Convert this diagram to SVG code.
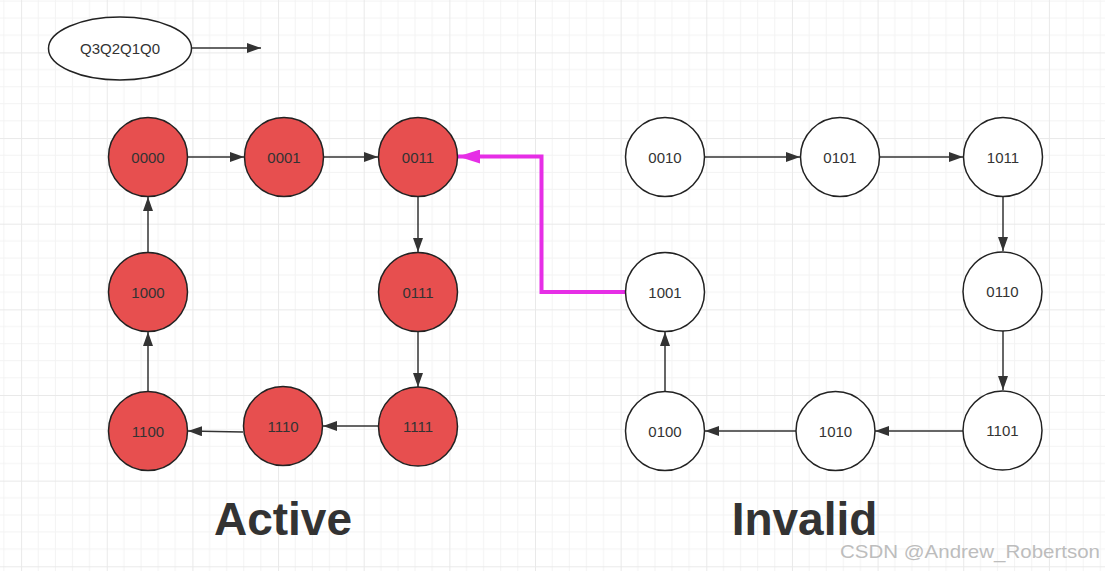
<svg xmlns="http://www.w3.org/2000/svg" width="1105" height="571" viewBox="0 0 1105 571">
<style>
.n circle{stroke:#222;stroke-width:1.5}
.r circle{fill:#e74f4f}
.w circle{fill:#fff}
.n text,.lbl{font-family:"Liberation Sans",Arial,sans-serif;font-size:15px;fill:#333;text-anchor:middle;dominant-baseline:central}
.e line,.e path{stroke:#333;stroke-width:1.5;fill:none}
.big{font-family:"Liberation Sans",Arial,sans-serif;font-weight:bold;font-size:46px;fill:#333;text-anchor:middle}
</style>
<defs>
<pattern id="grid" patternUnits="userSpaceOnUse" x="21.1" y="52.4" width="85.65" height="85.65">
<path d="M17.13 0V85.65M34.26 0V85.65M51.39 0V85.65M68.52 0V85.65M0 17.13H85.65M0 34.26H85.65M0 51.39H85.65M0 68.52H85.65" stroke="#f3f3f3" stroke-width="1"/>
<path d="M0.5 0V85.65M0 0.5H85.65" stroke="#e9e9e9" stroke-width="1"/>
</pattern>
<marker id="a" markerUnits="userSpaceOnUse" markerWidth="14" markerHeight="10" refX="14" refY="5" orient="auto" viewBox="0 0 14 10">
<path d="M0 0L14 5L0 10z" fill="#333"/>
</marker>
<marker id="m" markerUnits="userSpaceOnUse" markerWidth="22" markerHeight="14" refX="22" refY="7" orient="auto" viewBox="0 0 22 14">
<path d="M0 0L22 7L0 14z" fill="#e62ee6"/>
</marker>
</defs>
<rect width="1105" height="571" fill="#fff"/>
<rect width="1105" height="571" fill="url(#grid)"/>

<g id="legend" class="n w">
<ellipse cx="120" cy="48.5" rx="71.5" ry="31.5" fill="#fff" stroke="#222" stroke-width="1.5"/>
<text x="120" y="48.5">Q3Q2Q1Q0</text>
</g>

<g id="edges" class="e">
<line x1="192" y1="48" x2="261" y2="48" marker-end="url(#a)"/>
<line x1="188" y1="157" x2="244" y2="157" marker-end="url(#a)"/>
<line x1="324" y1="157" x2="378" y2="157" marker-end="url(#a)"/>
<line x1="418" y1="197" x2="418" y2="252" marker-end="url(#a)"/>
<line x1="418" y1="332" x2="418" y2="387" marker-end="url(#a)"/>
<line x1="378" y1="426" x2="323" y2="426" marker-end="url(#a)"/>
<line x1="243" y1="432" x2="188" y2="431" marker-end="url(#a)"/>
<line x1="148" y1="391" x2="148" y2="332" marker-end="url(#a)"/>
<line x1="148" y1="252" x2="148" y2="197" marker-end="url(#a)"/>
<line x1="705" y1="157" x2="800" y2="157" marker-end="url(#a)"/>
<line x1="880" y1="157" x2="963" y2="157" marker-end="url(#a)"/>
<line x1="1003" y1="197" x2="1003" y2="251" marker-end="url(#a)"/>
<line x1="1003" y1="331" x2="1003" y2="390" marker-end="url(#a)"/>
<line x1="963" y1="431" x2="875" y2="431" marker-end="url(#a)"/>
<line x1="796" y1="431" x2="705" y2="431" marker-end="url(#a)"/>
<line x1="665" y1="391" x2="665" y2="332" marker-end="url(#a)"/>
<path d="M625 292H541.5V156.5H458" style="stroke:#e62ee6;stroke-width:4" marker-end="url(#m)"/>
</g>

<g id="s0000" class="n r"><circle cx="148" cy="157" r="39.5"/><text x="148" y="157">0000</text></g>
<g id="s0001" class="n r"><circle cx="284" cy="157" r="39.5"/><text x="284" y="157">0001</text></g>
<g id="s0011" class="n r"><circle cx="418" cy="157" r="39.5"/><text x="418" y="157">0011</text></g>
<g id="s0111" class="n r"><circle cx="418" cy="292" r="39.5"/><text x="418" y="292">0111</text></g>
<g id="s1111" class="n r"><circle cx="418" cy="426.5" r="39.5"/><text x="418" y="426.5">1111</text></g>
<g id="s1110" class="n r"><circle cx="283" cy="426" r="39.5"/><text x="283" y="426">1110</text></g>
<g id="s1100" class="n r"><circle cx="148" cy="431" r="39.5"/><text x="148" y="431">1100</text></g>
<g id="s1000" class="n r"><circle cx="148" cy="292" r="39.5"/><text x="148" y="292">1000</text></g>

<g id="s0010" class="n w"><circle cx="665" cy="157" r="39.5"/><text x="665" y="157">0010</text></g>
<g id="s0101" class="n w"><circle cx="840" cy="157" r="39.5"/><text x="840" y="157">0101</text></g>
<g id="s1011" class="n w"><circle cx="1003" cy="157" r="39.5"/><text x="1003" y="157">1011</text></g>
<g id="s0110" class="n w"><circle cx="1002.5" cy="291.5" r="39.5"/><text x="1002.5" y="291.5">0110</text></g>
<g id="s1101" class="n w"><circle cx="1002.5" cy="430.5" r="39.5"/><text x="1002.5" y="430.5">1101</text></g>
<g id="s1010" class="n w"><circle cx="835.5" cy="431" r="39.5"/><text x="835.5" y="431">1010</text></g>
<g id="s0100" class="n w"><circle cx="665" cy="431" r="39.5"/><text x="665" y="431">0100</text></g>
<g id="s1001" class="n w"><circle cx="665" cy="292" r="39.5"/><text x="665" y="292">1001</text></g>

<g id="titles">
<text class="big" x="283" y="535">Active</text>
<text class="big" x="804.5" y="535">Invalid</text>
</g>
<text x="840" y="558" font-family="'Liberation Sans',Arial,sans-serif" font-size="19" fill="#bdbdbd" textLength="260" lengthAdjust="spacingAndGlyphs">CSDN @Andrew_Robertson</text>
</svg>
